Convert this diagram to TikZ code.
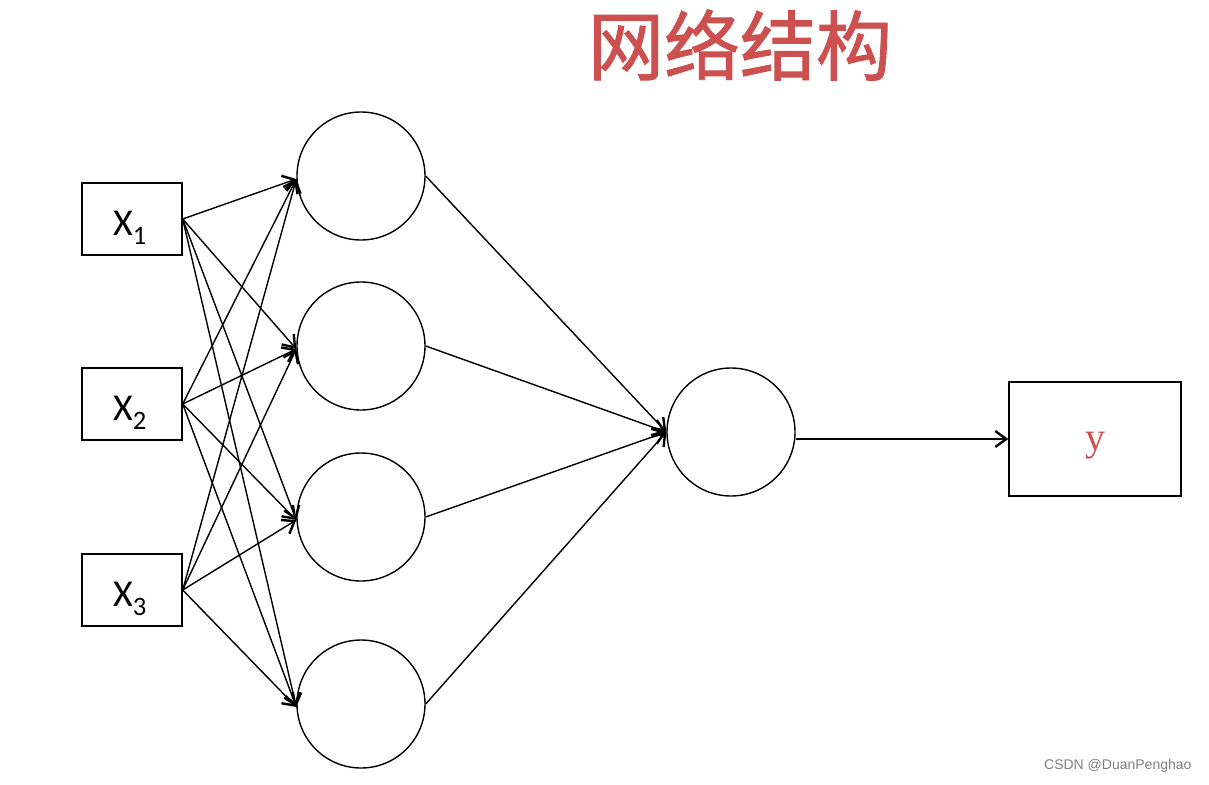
\documentclass[tikz,border=0pt]{standalone}
\usepackage{fontspec}
\setmainfont{Carlito}
\newfontfamily\cjk[FakeBold=1.2]{Noto Sans CJK SC}
\newfontfamily\serif{Liberation Serif}
\newfontfamily\wm{Liberation Sans}
\usetikzlibrary{arrows.meta}
\definecolor{tred}{RGB}{205,80,80}
\begin{document}
\begin{tikzpicture}[x=1pt,y=-1pt,
  box/.style={draw,line width=1.4pt,minimum width=100pt,minimum height=72pt,inner sep=0pt},
  xlab/.style={font=\fontsize{38}{38}\selectfont},
  neuron/.style={draw,line width=1.4pt,circle,minimum size=128pt,inner sep=0pt},
  arr/.style={line width=1.4pt,-{Straight Barb[length=11pt,width=16pt,line width=2.4pt]}}]
\useasboundingbox (0,0) rectangle (1209,784);
\node[font=\cjk\fontsize{76}{76}\selectfont,text=tred] (title) at (740,45) {网络结构};
\node[box] (x1) at (132,219) {};
\node[box] (x2) at (132,404) {};
\node[box] (x3) at (132,590) {};
\node[xlab] (l1) at (130,228) {X\textsubscript{1}};
\node[xlab] (l2) at (130,413) {X\textsubscript{2}};
\node[xlab] (l3) at (130,599) {X\textsubscript{3}};
\node[neuron] (h1) at (361,176) {};
\node[neuron] (h2) at (361,346) {};
\node[neuron] (h3) at (361,517) {};
\node[neuron] (h4) at (361,704) {};
\node[neuron] (o) at (731,432) {};
\node[box,minimum width=172pt,minimum height=114pt] (y) at (1095,439) {};
\node[font=\serif\fontsize{40}{40}\selectfont,text=tred] (ylab) at (1095,446) {y};
\foreach \i in {1,2,3}{
  \foreach \j in {1,2,3,4}{
    \draw[arr] (x\i.east) -- ([yshift=-3pt]h\j.west);
  }
}
\foreach \j in {1,2,3,4}{
  \draw[arr] (h\j.east) -- (o.west);
}
\draw[arr] ([yshift=-7pt]o.east) -- ([yshift=-7pt]o.east -| y.west);
\node[font=\wm\fontsize{14}{14}\selectfont,text=gray,anchor=east] (wm) at (1195,766) {CSDN @DuanPenghao};
\end{tikzpicture}
\end{document}
